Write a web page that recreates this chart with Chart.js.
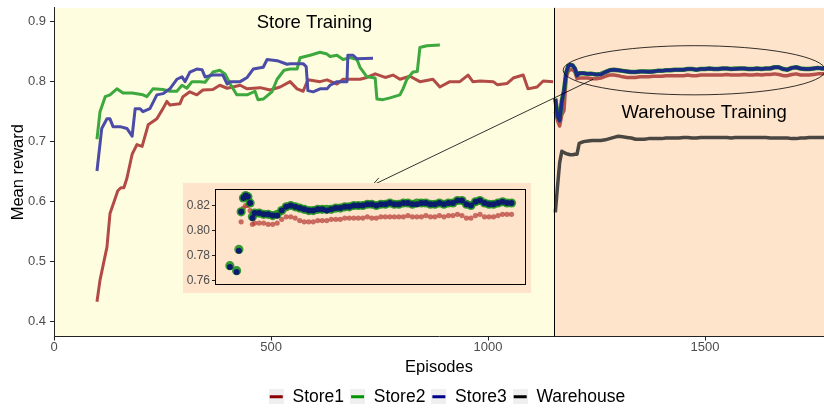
<!DOCTYPE html>
<html>
<head>
<meta charset="utf-8">
<script src="https://cdn.jsdelivr.net/npm/chart.js@4.4.1/dist/chart.umd.min.js"></script>
<style>
  html, body { margin: 0; padding: 0; background: #fff; }
  #wrap { position: relative; width: 824px; height: 412px; }
  #mainChart { position: absolute; left: 0; top: 0; }
  #insetBox { position: absolute; left: 183px; top: 183px; width: 348px; height: 110px; }
</style>
</head>
<body>
<div id="wrap">
  <canvas id="mainChart" width="824" height="412"></canvas>
  <div id="insetBox"><canvas id="insetChart" width="348" height="110"></canvas></div>
</div>
<script>
// ---- store training phase ----
const store1Ep = [99,106,122,129,147,154,161,168,180,191,203,217,237,251,260,267,290,297,313,329,343,366,382,399,412,429,445,475,498,521,544,560,574,585,613,629,652,666,705,721,740,763,781,797,820,843,873,889,912,935,954,965,982,1012,1021,1044,1058,1081,1092,1113,1127,1150];
const store1Val = [0.433,0.469,0.524,0.580,0.618,0.623,0.623,0.639,0.679,0.695,0.692,0.728,0.738,0.755,0.767,0.761,0.763,0.775,0.783,0.778,0.786,0.787,0.794,0.789,0.791,0.794,0.788,0.790,0.786,0.791,0.800,0.788,0.784,0.803,0.800,0.803,0.796,0.804,0.804,0.807,0.813,0.807,0.811,0.804,0.809,0.800,0.804,0.791,0.800,0.800,0.811,0.800,0.801,0.800,0.795,0.797,0.806,0.811,0.788,0.791,0.801,0.800];

const store2Ep = [99,106,118,129,145,159,180,205,214,228,251,267,283,295,306,318,336,348,366,382,394,406,421,445,463,470,482,502,514,530,544,560,567,590,613,629,636,652,666,682,698,705,721,740,744,758,774,797,804,813,827,837,843,859,889];
const store2Val = [0.704,0.750,0.775,0.778,0.788,0.781,0.781,0.778,0.775,0.788,0.787,0.784,0.784,0.794,0.789,0.800,0.800,0.799,0.816,0.819,0.813,0.796,0.778,0.778,0.784,0.770,0.771,0.783,0.804,0.819,0.821,0.821,0.840,0.844,0.849,0.846,0.842,0.844,0.837,0.840,0.837,0.824,0.808,0.806,0.771,0.770,0.773,0.778,0.788,0.804,0.816,0.817,0.857,0.860,0.861];

const store3Ep = [99,110,122,129,136,152,168,180,187,198,205,221,237,251,267,283,295,302,313,329,341,348,366,389,399,406,429,445,459,482,491,514,537,544,574,581,585,597,613,629,636,652,675,677,689,698,735];
const store3Val = [0.651,0.722,0.738,0.738,0.725,0.725,0.722,0.709,0.755,0.755,0.750,0.755,0.778,0.780,0.788,0.804,0.808,0.800,0.816,0.821,0.820,0.808,0.811,0.811,0.796,0.800,0.800,0.807,0.821,0.824,0.837,0.835,0.829,0.830,0.830,0.825,0.785,0.783,0.788,0.788,0.794,0.800,0.800,0.844,0.844,0.838,0.839];

// ---- warehouse training phase (shared episodes) ----
const whEp = [1155,1160,1165,1170,1175,1180,1185,1190,1195,1200,1205,1210,
  1220,1230,1240,1250,1260,1270,1280,1290,1300,1310,
  1320,1330,1340,1350,1360,1370,1380,1390,1400,1410,
  1420,1430,1440,1450,1460,1470,1480,1490,1500,1510,
  1520,1530,1540,1550,1560,1570,1580,1590,1600,1610,
  1620,1630,1640,1650,1660,1670,1680,1690,1700,1710,
  1720,1730,1740,1750,1760,1770,1780];
const whStore1 = [0.750,0.735,0.726,0.745,0.752,0.807,0.818,0.820,0.820,0.816,0.805,0.806,
  0.806,0.806,0.805,0.805,0.806,0.809,0.811,0.811,0.810,0.808,
  0.807,0.807,0.807,0.808,0.808,0.808,0.809,0.809,0.809,0.810,
  0.810,0.810,0.810,0.810,0.811,0.810,0.810,0.811,0.811,0.811,
  0.811,0.811,0.811,0.812,0.811,0.811,0.811,0.812,0.811,0.811,
  0.812,0.811,0.812,0.812,0.813,0.812,0.810,0.810,0.812,0.813,
  0.811,0.811,0.811,0.812,0.813,0.813,0.813];
const whStore2 = [0.772,0.743,0.736,0.768,0.785,0.815,0.826,0.828,0.827,0.822,0.811,0.814,
  0.814,0.813,0.813,0.812,0.813,0.816,0.819,0.820,0.819,0.818,
  0.817,0.816,0.816,0.817,0.817,0.817,0.817,0.818,0.818,0.819,
  0.819,0.820,0.820,0.820,0.821,0.821,0.820,0.821,0.821,0.822,
  0.821,0.821,0.822,0.822,0.821,0.822,0.822,0.822,0.821,0.821,
  0.822,0.821,0.822,0.822,0.824,0.824,0.821,0.820,0.823,0.824,
  0.822,0.821,0.821,0.822,0.823,0.822,0.822];
const whStore3 = [0.771,0.742,0.735,0.767,0.784,0.815,0.826,0.828,0.827,0.822,0.810,0.814,
  0.814,0.813,0.813,0.812,0.812,0.816,0.819,0.820,0.819,0.818,
  0.817,0.816,0.816,0.817,0.817,0.816,0.817,0.818,0.818,0.819,
  0.819,0.820,0.820,0.820,0.821,0.821,0.820,0.821,0.821,0.822,
  0.821,0.821,0.822,0.822,0.821,0.821,0.822,0.822,0.821,0.821,
  0.822,0.821,0.822,0.822,0.824,0.824,0.821,0.820,0.823,0.824,
  0.822,0.821,0.821,0.822,0.823,0.822,0.822];
const whWarehouse = [0.582,0.625,0.665,0.684,0.682,0.680,0.679,0.678,0.678,0.679,0.679,0.697,
  0.700,0.701,0.702,0.702,0.702,0.703,0.705,0.707,0.709,0.708,
  0.707,0.706,0.704,0.704,0.704,0.705,0.705,0.705,0.705,0.706,
  0.706,0.706,0.706,0.707,0.707,0.706,0.706,0.707,0.707,0.707,
  0.707,0.707,0.707,0.707,0.706,0.707,0.707,0.707,0.707,0.707,
  0.707,0.707,0.707,0.706,0.706,0.706,0.706,0.706,0.705,0.705,
  0.706,0.706,0.707,0.707,0.707,0.707,0.707];

const xTicks = [0, 500, 1000, 1500];
const yTicks = [0.4, 0.5, 0.6, 0.7, 0.8, 0.9];
const insetTicks = [0.76, 0.78, 0.80, 0.82];
const legendNames = ['Store1', 'Store2', 'Store3', 'Warehouse'];
const phaseSplit = 1152;

const FONT = "'Liberation Sans', Arial, Helvetica, sans-serif";
Chart.defaults.font.family = FONT;

const pts = (xs, ys) => xs.map((x, i) => ({ x: x, y: ys[i] }));

const legendColors = ['#8B0000', '#009400', '#00008B', '#000000'];
function legendKey(color) {
    const c = document.createElement('canvas');
    c.width = 15; c.height = 15;
    const g = c.getContext('2d');
    g.fillStyle = '#EFEFEF';
    g.fillRect(0, 0, 15, 15);
    g.fillStyle = color;
    g.fillRect(1, 6, 13, 3);
    return c;
}

// ggplot centres the legend under the panel, not the whole figure
const legendShift = {
    id: 'legendShift',
    afterLayout(chart) {
        const lg = chart.legend;
        if (!lg) return;
        lg.left += 35; lg.right += 35;
        lg.top += 3.5; lg.bottom += 3.5;
    }
};

// backgrounds, divider, labels, ellipse and arrow
const annotate = {
    id: 'annotate',
    beforeDraw(chart) {
        const { ctx, chartArea: a, scales: { x } } = chart;
        const split = x.getPixelForValue(phaseSplit);
        ctx.save();
        ctx.fillStyle = '#FFFDE0';
        ctx.fillRect(a.left, a.top, split - a.left, a.bottom - a.top);
        ctx.fillStyle = '#FFE4CC';
        ctx.fillRect(split, a.top, a.right - split, a.bottom - a.top);
        ctx.restore();
    },
    afterDatasetsDraw(chart) {
        const { ctx, chartArea: a, scales: { x, y } } = chart;
        ctx.save();
        // divider
        const split = Math.round(x.getPixelForValue(phaseSplit)) + 0.5;
        ctx.strokeStyle = '#000';
        ctx.lineWidth = 1;
        ctx.beginPath();
        ctx.moveTo(split, a.top);
        ctx.lineTo(split, a.bottom);
        ctx.stroke();

        // phase labels
        ctx.fillStyle = '#000';
        ctx.font = '18.5px ' + FONT;
        ctx.textAlign = 'center';
        ctx.textBaseline = 'middle';
        ctx.fillText('Store Training', x.getPixelForValue(600), y.getPixelForValue(0.898));
        ctx.fillText('Warehouse Training', x.getPixelForValue(1498), y.getPixelForValue(0.748));

        // ellipse around the warehouse-phase store curves
        const cx = x.getPixelForValue(1475), cy = y.getPixelForValue(0.819);
        const rx = x.getPixelForValue(1475 + 302) - cx;
        const ry = cy - y.getPixelForValue(0.819 + 0.041);
        ctx.lineWidth = 0.8;
        ctx.beginPath();
        ctx.ellipse(cx, cy, rx, ry, 0, 0, Math.PI * 2);
        ctx.stroke();

        // arrow to the inset
        const x0 = x.getPixelForValue(1242), y0 = y.getPixelForValue(0.804);
        const x1 = x.getPixelForValue(733), y1 = y.getPixelForValue(0.627);
        ctx.beginPath();
        ctx.moveTo(x0, y0);
        ctx.lineTo(x1, y1);
        const ang = Math.atan2(y1 - y0, x1 - x0);
        const len = 10;
        ctx.moveTo(x1 - len * Math.cos(ang - 0.4), y1 - len * Math.sin(ang - 0.4));
        ctx.lineTo(x1, y1);
        ctx.lineTo(x1 - len * Math.cos(ang + 0.4), y1 - len * Math.sin(ang + 0.4));
        ctx.stroke();
        ctx.restore();
    }
};

const lineSet = (label, data, color, width, order) => ({
    label: label,
    data: data,
    borderColor: color,
    backgroundColor: color,
    borderWidth: width,
    pointRadius: 0,
    tension: 0,
    borderJoinStyle: 'round',
    order: order
});

new Chart(document.getElementById('mainChart'), {
    type: 'line',
    data: {
        datasets: [
            lineSet('Store1', pts(store1Ep, store1Val), '#B24B45', 3, 3),
            lineSet('Store2', pts(store2Ep, store2Val), '#3DA83D', 3, 2),
            lineSet('Store3', pts(store3Ep, store3Val), '#4B4BA8', 3, 1),
            lineSet('Warehouse', pts(whEp, whWarehouse), '#4A4642', 3.5, 7),
            lineSet('Store1 wh', pts(whEp, whStore1), '#B5524C', 3.5, 6),
            lineSet('Store2 wh', pts(whEp, whStore2), '#2E8B2E', 4.5, 5),
            lineSet('Store3 wh', pts(whEp, whStore3), '#1B2A82', 3.5, 4)
        ]
    },
    options: {
        responsive: false,
        animation: false,
        layout: { padding: { top: 5, right: 0, bottom: 0, left: 0 } },
        scales: {
            x: {
                type: 'linear',
                min: 0,
                max: 1774,
                afterBuildTicks: s => { s.ticks = xTicks.map(v => ({ value: v })); },
                afterFit: s => { s.height = 42; },
                ticks: { color: '#4D4D4D', font: { size: 13, lineHeight: 1.1 }, padding: 0, maxRotation: 0, callback: v => String(v) },
                grid: { drawOnChartArea: false, drawTicks: true, tickLength: 4, color: '#222' },
                border: { display: true, color: '#222', width: 1 },
                title: { display: true, text: 'Episodes', color: '#000', font: { size: 16.5 }, padding: { top: 0, bottom: 1 } }
            },
            y: {
                min: 0.375,
                max: 0.923,
                afterBuildTicks: s => { s.ticks = yTicks.map(v => ({ value: v })); },
                afterFit: s => { s.width = 54; },
                ticks: { color: '#4D4D4D', font: { size: 13, lineHeight: 0.6 }, padding: 4, callback: v => v.toFixed(1) },
                grid: { drawOnChartArea: false, drawTicks: true, tickLength: 4, color: '#222' },
                border: { display: true, color: '#222', width: 1 },
                title: { display: true, text: 'Mean reward', color: '#000', font: { size: 16.5 }, padding: { top: 9, bottom: 0 } }
            }
        },
        plugins: {
            tooltip: { enabled: false },
            legend: {
                position: 'bottom',
                onClick: null,
                labels: {
                    usePointStyle: true,
                    boxWidth: 15,
                    boxHeight: 15,
                    padding: 6,
                    color: '#000',
                    font: { size: 17.5 },
                    generateLabels: () => legendNames.map((name, i) => ({
                        text: name,
                        pointStyle: legendKey(legendColors[i]),
                        fillStyle: legendColors[i],
                        strokeStyle: legendColors[i],
                        fontColor: '#000',
                        lineWidth: 0,
                        hidden: false,
                        datasetIndex: i
                    }))
                }
            }
        }
    },
    plugins: [annotate, legendShift]
});

// ---- inset: zoom on the warehouse phase ----
const insetFrame = {
    id: 'insetFrame',
    beforeDraw(chart) {
        const { ctx, width, height } = chart;
        ctx.save();
        ctx.fillStyle = '#FFE4CC';
        ctx.fillRect(0, 0, width, height);
        ctx.restore();
    },
    afterDraw(chart) {
        const { ctx, chartArea: a } = chart;
        ctx.save();
        ctx.strokeStyle = '#000';
        ctx.lineWidth = 1;
        ctx.strokeRect(Math.round(a.left) + 0.5, Math.round(a.top) + 0.5,
            Math.round(a.right - a.left) - 1, Math.round(a.bottom - a.top) - 1);
        ctx.restore();
    }
};

const dotSet = (data, color, r, order) => ({
    data: data,
    showLine: false,
    pointRadius: r,
    pointBorderWidth: 0,
    backgroundColor: color,
    borderColor: color,
    order: order
});

new Chart(document.getElementById('insetChart'), {
    type: 'scatter',
    data: {
        datasets: [
            dotSet(pts(whEp, whStore1), 'rgba(180,55,50,0.7)', 2.6, 2),
            dotSet(pts(whEp, whStore2), 'rgba(20,140,20,0.85)', 4.6, 1),
            dotSet(pts(whEp, whStore3), '#0B1C6E', 3, 0)
        ]
    },
    options: {
        responsive: false,
        animation: false,
        layout: { padding: { top: 4, right: 4, bottom: 8, left: 0 } },
        scales: {
            x: { type: 'linear', min: 1122, max: 1813, display: false },
            y: {
                min: 0.7566,
                max: 0.8335,
                afterBuildTicks: s => { s.ticks = insetTicks.map(v => ({ value: v })); },
                afterFit: s => { s.width = 32; },
                ticks: { color: '#4D4D4D', font: { size: 12, lineHeight: 0.6 }, padding: 2, callback: v => v.toFixed(2) },
                grid: { drawOnChartArea: false, drawTicks: true, tickLength: 3, color: '#222' },
                border: { display: false }
            }
        },
        plugins: { legend: { display: false }, tooltip: { enabled: false } }
    },
    plugins: [insetFrame]
});
</script>
</body>
</html>
